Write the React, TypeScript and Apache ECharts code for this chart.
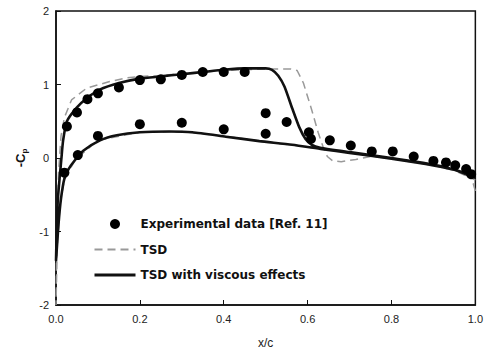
import React, { useEffect, useRef } from "react";
import * as echarts from "echarts";

// Experimental data [Ref. 11]
const expX = [0.02, 0.026, 0.05, 0.052, 0.075, 0.1, 0.1, 0.15, 0.2, 0.2, 0.25, 0.3, 0.3, 0.35, 0.4, 0.4, 0.45, 0.5, 0.5, 0.55, 0.603, 0.608, 0.653, 0.703, 0.753, 0.803, 0.853, 0.9, 0.93, 0.952, 0.978, 0.99];
const expCp = [-0.2, 0.43, 0.62, 0.04, 0.8, 0.88, 0.3, 0.96, 1.06, 0.46, 1.07, 1.13, 0.48, 1.17, 1.17, 0.39, 1.17, 0.61, 0.33, 0.49, 0.35, 0.26, 0.24, 0.17, 0.09, 0.09, 0.02, -0.04, -0.06, -0.1, -0.15, -0.22];

// TSD with viscous effects
const viscUpperX = [0, 0.004, 0.013, 0.017, 0.026, 0.05, 0.075, 0.104, 0.15, 0.2, 0.25, 0.3, 0.35, 0.4, 0.45, 0.5, 0.515, 0.53, 0.545, 0.563, 0.58, 0.595, 0.61, 0.63, 0.7, 0.8, 0.9, 0.95, 1.0];
const viscUpperCp = [-1.4, -0.6, 0.0, 0.24, 0.5, 0.69, 0.82, 0.93, 1.02, 1.08, 1.11, 1.14, 1.17, 1.2, 1.22, 1.22, 1.2, 1.12, 0.97, 0.68, 0.42, 0.26, 0.18, 0.14, 0.08, 0.0, -0.09, -0.16, -0.25];
const viscLowerX = [0, 0.006, 0.012, 0.02, 0.03, 0.045, 0.065, 0.105, 0.145, 0.2, 0.27, 0.325, 0.405, 0.485, 0.563, 0.635, 0.7, 0.8, 0.9, 0.95, 1.0];
const viscLowerCp = [-1.4, -0.9, -0.55, -0.28, -0.15, -0.03, 0.1, 0.24, 0.31, 0.35, 0.36, 0.35, 0.29, 0.23, 0.18, 0.12, 0.07, -0.01, -0.1, -0.16, -0.27];

// TSD
const tsdUpperX = [0, 0.002, 0.006, 0.012, 0.02, 0.037, 0.073, 0.128, 0.168, 0.2, 0.25, 0.3, 0.4, 0.5, 0.56, 0.575, 0.59, 0.61, 0.625, 0.637, 0.647, 0.66, 0.68, 0.715, 0.75, 0.8, 0.9, 0.95, 0.985, 0.995, 1.0];
const tsdUpperCp = [-2, -1, -0.2, 0.3, 0.55, 0.79, 0.95, 1.04, 1.09, 1.11, 1.12, 1.15, 1.19, 1.21, 1.21, 1.19, 1.02, 0.65, 0.35, 0.15, 0.02, -0.04, -0.05, -0.02, 0.02, 0.0, -0.09, -0.16, -0.25, -0.35, -0.45];
const tsdLowerX = [0, 0.003, 0.01, 0.02, 0.045, 0.1, 0.2, 0.3, 0.4, 0.5, 0.6, 0.7, 0.8, 0.9, 0.95, 1.0];
const tsdLowerCp = [-2, -1.2, -0.6, -0.3, -0.03, 0.24, 0.35, 0.36, 0.3, 0.22, 0.15, 0.07, -0.01, -0.1, -0.17, -0.3];

const xTicks = [0, 0.2, 0.4, 0.6, 0.8, 1.0];

const zip = (xs: number[], ys: number[]) => xs.map((x, i) => [x, ys[i]]);
const loop = (ux: number[], uy: number[], lx: number[], ly: number[]) => [
  ...zip(ux, uy).reverse(),
  ...zip(lx, ly),
];

export default function App() {
  const ref = useRef<HTMLDivElement>(null);
  useEffect(() => {
    if (!ref.current) return;
    const chart = echarts.init(ref.current, undefined, { renderer: "svg" });
    const labelFont = { fontFamily: "Liberation Sans, Arial, sans-serif", fontSize: 11, color: "#222" };
    chart.setOption({
      animation: false,
      backgroundColor: "#fff",
      grid: {
        left: 56,
        right: 9,
        top: 11,
        bottom: 48,
        show: true,
        borderColor: "#111",
        borderWidth: 1.5,
        backgroundColor: "transparent",
      },
      legend: {
        orient: "vertical",
        left: 88,
        top: 213,
        itemWidth: 41,
        itemHeight: 10,
        itemGap: 13.5,
        data: [
          { name: "Experimental data [Ref. 11]" },
          { name: "TSD", itemStyle: { opacity: 0 } },
          { name: "TSD with viscous effects", itemStyle: { opacity: 0 }, lineStyle: { width: 3 } },
        ],
        textStyle: {
          fontFamily: "DejaVu Sans, sans-serif",
          fontWeight: "bold",
          fontSize: 12,
          color: "#111",
        },
      },
      xAxis: {
        type: "value",
        min: 0,
        max: 1,
        interval: 0.2,
        name: "x/c",
        nameLocation: "middle",
        nameGap: 32,
        nameTextStyle: { ...labelFont, fontSize: 12 },
        axisLine: { show: true, onZero: false, lineStyle: { color: "#111", width: 1.5 } },
        axisTick: { show: true, inside: true, length: 5, lineStyle: { color: "#111" } },
        axisLabel: {
          ...labelFont,
          margin: 8,
          formatter: (v: number) => (xTicks.some((t) => Math.abs(t - v) < 1e-9) ? v.toFixed(1) : ""),
        },
        splitLine: { show: false },
      },
      yAxis: {
        type: "value",
        min: -2,
        max: 2,
        interval: 1,
        name: "-C{p|p}",
        nameLocation: "middle",
        nameRotate: 90,
        nameGap: 26,
        nameTextStyle: {
          fontFamily: "Liberation Sans, Arial, sans-serif",
          fontSize: 13,
          fontWeight: "bold",
          color: "#111",
          lineHeight: 16,
          rich: {
            p: { fontSize: 8, fontWeight: "bold", verticalAlign: "bottom", lineHeight: 16, color: "#111" },
          },
        },
        axisLine: { show: true, onZero: false, lineStyle: { color: "#111", width: 1.5 } },
        axisTick: { show: true, inside: true, length: 5, lineStyle: { color: "#111" } },
        axisLabel: { ...labelFont, margin: 7 },
        splitLine: { show: false },
      },
      series: [
        {
          name: "TSD",
          type: "line",
          data: loop(tsdUpperX, tsdUpperCp, tsdLowerX, tsdLowerCp),
          symbol: "none",
          lineStyle: { color: "#999", width: 1.5, type: [8, 5] },
          itemStyle: { color: "#999" },
          z: 2,
        },
        {
          name: "TSD with viscous effects",
          type: "line",
          data: loop(viscUpperX, viscUpperCp, viscLowerX, viscLowerCp),
          symbol: "none",
          smooth: 0.2,
          lineStyle: { color: "#111", width: 2.6 },
          itemStyle: { color: "#111" },
          z: 3,
        },
        {
          name: "Experimental data [Ref. 11]",
          type: "scatter",
          data: zip(expX, expCp),
          symbol: "circle",
          symbolSize: 10,
          itemStyle: { color: "#000", opacity: 1 },
          z: 4,
        },
      ],
    });
    return () => chart.dispose();
  }, []);
  return <div ref={ref} style={{ width: 486, height: 354, position: "absolute", left: 0, top: 0 }} />;
}
